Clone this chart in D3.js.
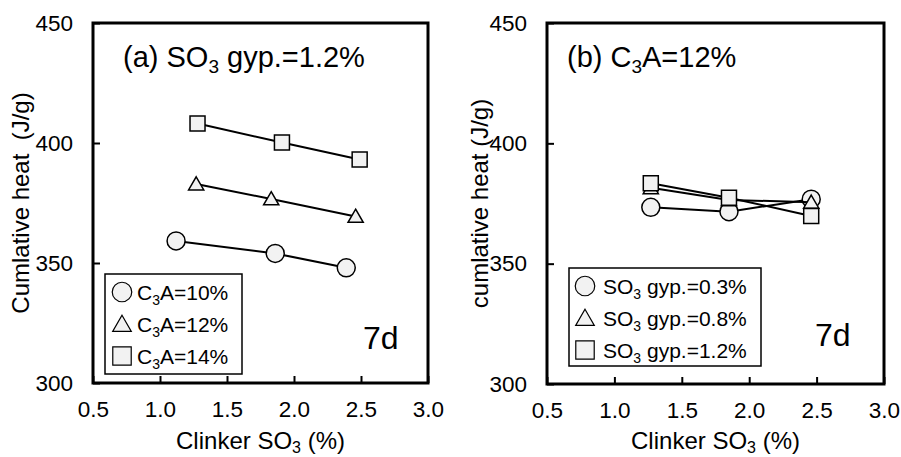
<!DOCTYPE html>
<html><head><meta charset="utf-8">
<script src="https://cdn.jsdelivr.net/npm/d3@7"></script>
<style>body{margin:0;background:#fff}svg{display:block}text{font-family:"Liberation Sans",Arial,sans-serif;fill:#000}</style>
</head><body>
<script>
// ---- data ----
const xTickValues = [0.5, 1.0, 1.5, 2.0, 2.5, 3.0];
const yTickValues = [300, 350, 400, 450];

// panel (a): SO3 gyp.=1.2%
const aNames = ["C3A=10%", "C3A=12%", "C3A=14%"];
const aX_C3A10 = [1.12, 1.86, 2.39];
const aY_C3A10 = [359.2, 354.0, 348.0];
const aX_C3A12 = [1.27, 1.83, 2.46];
const aY_C3A12 = [382.9, 376.7, 369.4];
const aX_C3A14 = [1.28, 1.91, 2.49];
const aY_C3A14 = [408.1, 400.2, 393.1];

// panel (b): C3A=12%
const bNames = ["gyp.=0.3%", "gyp.=0.8%", "gyp.=1.2%"];
const bX = [1.27, 1.85, 2.46];
const bY_gyp03 = [373.4, 371.6, 376.8];
const bY_gyp08 = [381.5, 376.5, 375.5];
const bY_gyp12 = [383.4, 377.4, 369.8];

const W = 901, H = 457;
const svg = d3.select("body").append("svg").attr("width", W).attr("height", H);
svg.append("rect").attr("width", W).attr("height", H).attr("fill", "#fff");

const shapes = [d3.symbolCircle, d3.symbolTriangle, d3.symbolSquare];
const markerSize = [254, 100, 225];
const legendSize = [300, 150, 340];
const markFill = "#f2f2f2";

function panel(opts) {
  const {x0, x1, y0, y1, series, title, sub, legend, ylabel, ylabX} = opts;
  const x = d3.scaleLinear().domain([0.5, 3.0]).range([x0, x1]);
  const y = d3.scaleLinear().domain([300, 450]).range([y1, y0]);
  const g = svg.append("g");

  // series: line + markers
  series.forEach((s, i) => {
    const pts = s.x.map((v, k) => [v, s.y[k]]);
    g.append("path").datum(pts)
      .attr("d", d3.line().x(d => x(d[0])).y(d => y(d[1])))
      .attr("fill", "none").attr("stroke", "#000").attr("stroke-width", 2);
    g.selectAll(null).data(pts).enter().append("path")
      .attr("d", d3.symbol().type(shapes[i]).size(markerSize[i]))
      .attr("transform", d => `translate(${x(d[0])},${y(d[1]) + (i === 1 ? 1.5 : 0)})`)
      .attr("fill", markFill).attr("stroke", "#000").attr("stroke-width", 1.5);
  });

  // axes with inward ticks
  const yAx = g.append("g").attr("transform", `translate(${x0},0)`)
    .call(d3.axisLeft(y).tickValues(yTickValues).tickSize(-7).tickPadding(20).tickFormat(d3.format("d")));
  const xAx = g.append("g").attr("transform", `translate(0,${y1})`)
    .call(d3.axisBottom(x).tickValues(xTickValues).tickSize(-7).tickPadding(18).tickFormat(d3.format(".1f")));
  [yAx, xAx].forEach(a => {
    a.select(".domain").remove();
    a.selectAll("line").attr("stroke", "#000").attr("stroke-width", 2);
    a.selectAll("text").style("font-size", "22.5px").attr("fill", "#000")
      .style("font-family", '"Liberation Sans",Arial,sans-serif');
  });
  xAx.selectAll("text").attr("dy", "0.71em");

  // frame
  g.append("rect").attr("x", x0).attr("y", y0).attr("width", x1 - x0).attr("height", y1 - y0)
    .attr("fill", "none").attr("stroke", "#000").attr("stroke-width", 3);

  // x title
  const xt = g.append("text").attr("x", (x0 + x1) / 2).attr("y", 449).attr("text-anchor", "middle")
    .style("font-size", "24px");
  xt.append("tspan").text("Clinker SO");
  xt.append("tspan").text("3").style("font-size", "16px").attr("dy", 4);
  xt.append("tspan").text(" (%)").attr("dy", -4);

  // y title
  g.append("text").attr("transform", `translate(${ylabX},${(y0 + y1) / 2}) rotate(-90)`)
    .attr("text-anchor", "middle").style("font-size", "24px").style("white-space", "pre")
    .attr("xml:space", "preserve").text(ylabel);

  // panel title
  const t = g.append("text").attr("x", title.x).attr("y", 67).style("font-size", "29px");
  title.parts.forEach(p => {
    if (p.sub) t.append("tspan").text(p.t).style("font-size", "19px").attr("dy", 6);
    else t.append("tspan").text(p.t).attr("dy", p.after ? -6 : 0);
  });

  // 7d
  g.append("text").attr("x", sub.x).attr("y", sub.y).style("font-size", "32px").text("7d");

  // legend
  g.append("rect").attr("x", legend.x).attr("y", legend.y).attr("width", legend.w).attr("height", legend.h)
    .attr("fill", "#fff").attr("stroke", "#000").attr("stroke-width", 1.5);
  legend.rows.forEach((r, i) => {
    const cy = legend.y + 18 + i * 32;
    g.append("path").attr("d", d3.symbol().type(shapes[i]).size(legendSize[i]))
      .attr("transform", `translate(${legend.mx},${cy + (i === 1 ? 2 : 0)})`)
      .attr("fill", markFill).attr("stroke", "#000").attr("stroke-width", 1.2);
    const tx = g.append("text").attr("x", legend.tx).attr("y", cy + 7.5).style("font-size", "21px");
    tx.append("tspan").text(r[0]);
    tx.append("tspan").text("3").style("font-size", "14px").attr("dy", 5);
    tx.append("tspan").text(r[1]).attr("dy", -5);
  });
}

panel({
  x0: 93, x1: 428, y0: 23, y1: 383,
  series: [
    {x: aX_C3A10, y: aY_C3A10},
    {x: aX_C3A12, y: aY_C3A12},
    {x: aX_C3A14, y: aY_C3A14}
  ],
  title: {x: 123, parts: [{t: "(a) SO"}, {t: "3", sub: true}, {t: " gyp.=1.2%", after: true}]},
  sub: {x: 363, y: 349},
  legend: {x: 105, y: 274, w: 137, h: 100, mx: 122, tx: 137,
    rows: aNames.map(n => ["C", n.slice(2)])},
  ylabel: "Cumlative heat\u00a0\u00a0(J/g)", ylabX: 29
});

panel({
  x0: 547, x1: 884, y0: 23, y1: 384,
  series: [
    {x: bX, y: bY_gyp03},
    {x: bX, y: bY_gyp08},
    {x: bX, y: bY_gyp12}
  ],
  title: {x: 567, parts: [{t: "(b) C"}, {t: "3", sub: true}, {t: "A=12%", after: true}]},
  sub: {x: 815, y: 346},
  legend: {x: 569, y: 268, w: 192, h: 98, mx: 585, tx: 603,
    rows: bNames.map(n => ["SO", " " + n])},
  ylabel: "cumlative heat (J/g)", ylabX: 488
});
</script>
</body></html>
